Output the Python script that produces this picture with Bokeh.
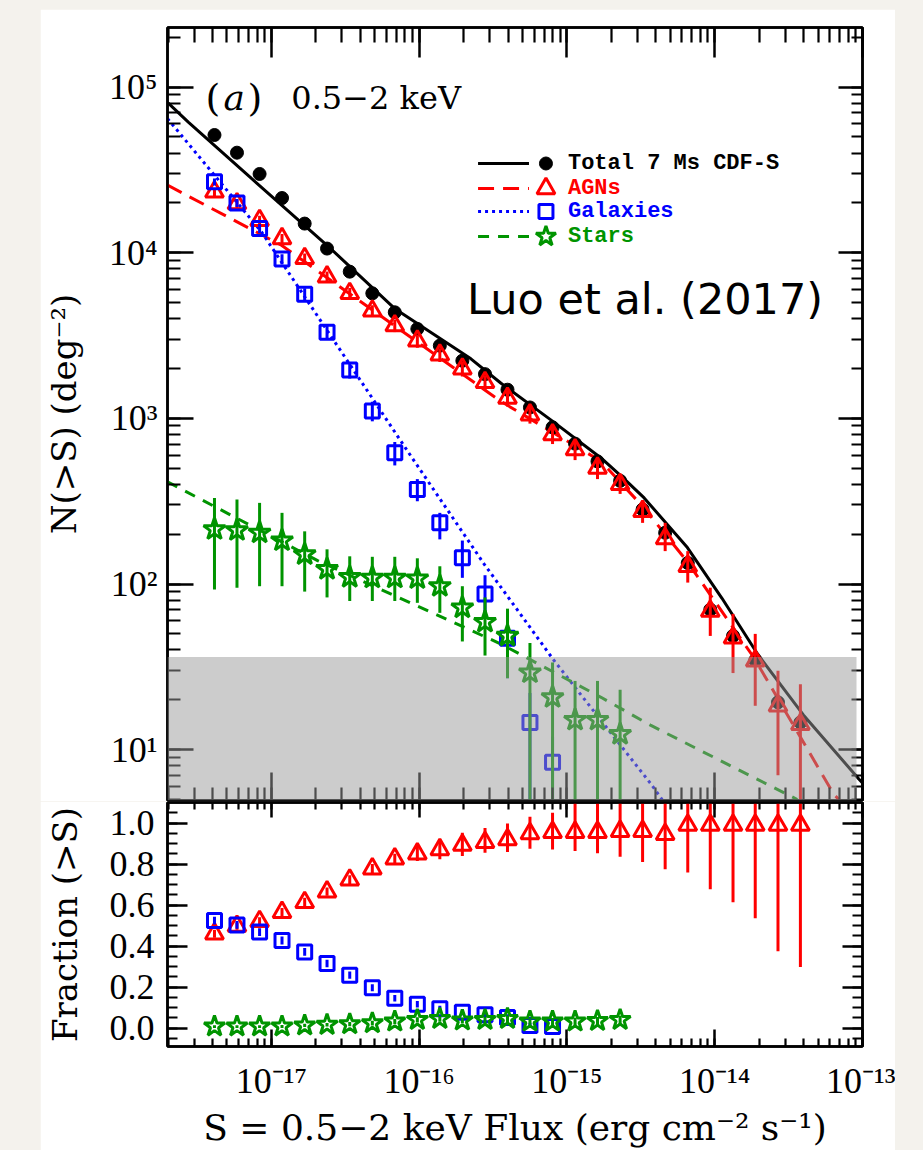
from bokeh.plotting import figure
from bokeh.models import (Range1d, LogAxis, LinearAxis, BoxAnnotation, Label, LogTicker,
                          FixedTicker, CustomJSTickFormatter, PrintfTickFormatter, Spacer)
from bokeh.layouts import column, row
from bokeh.embed import file_html
from bokeh.resources import INLINE

# ---------------- data ----------------
flux = [4.12e-18, 5.85e-18, 8.32e-18, 1.18e-17, 1.68e-17, 2.38e-17, 3.39e-17, 4.82e-17,
        6.84e-17, 9.72e-17, 1.38e-16, 1.96e-16, 2.79e-16, 3.96e-16, 5.62e-16, 7.99e-16,
        1.135e-15, 1.61e-15, 2.29e-15, 3.25e-15, 4.62e-15, 6.57e-15, 9.33e-15, 1.33e-14,
        1.88e-14, 2.68e-14, 3.80e-14]

total_n = [51400, 40200, 29900, 21400, 15000, 10600, 7690, 5690, 4370, 3470, 2750, 2230,
           1850, 1490, 1164, 883, 704, 550, 420, 282, 204, 134, 70, 48.6, 34.6, 19.3, 14.6]

agn_n = [23300, 19800, 15700, 12200, 9250, 7170, 5690, 4460, 3630, 2940, 2420, 1990, 1650,
         1325, 1052, 798, 648, 502, 400, 275, 188, 128, 68.7, 47.4, 34.4, 18.4, 14.2]
agn_n_lo = [22000, 18600, 14700, 11400, 8600, 6650, 5250, 4100, 3320, 2670, 2190, 1790, 1480,
            1180, 930, 700, 560, 430, 350, 234, 158, 102, 48.6, 29, 18.4, 7, 1]
agn_n_hi = [24600, 21000, 16700, 13000, 9900, 7700, 6130, 4820, 3940, 3210, 2650, 2190, 1820,
            1470, 1180, 900, 740, 580, 460, 316, 234, 158, 95, 66, 50, 30, 24.8]

gal_n = [26800, 20000, 14000, 9160, 5610, 3310, 1960, 1110, 620, 372, 234, 144, 87, 47, 14.6, 8.4]
gal_n_lo = [25500, 18900, 13100, 8500, 5150, 3000, 1740, 960, 520, 316, 186, 109, 64, 27, 1, 1]
gal_n_hi = [28100, 21100, 14900, 9800, 6100, 3620, 2180, 1260, 720, 430, 269, 183, 113, 68, 22, 12]

star_n = [214, 211, 204, 183, 151, 123, 110, 109, 109, 108, 97, 72, 59, 48.6, 29.2, 20.7,
          15.1, 15.1, 12.4]
star_n_lo = [92.7, 95, 97, 97, 90, 83, 79, 79, 79, 77, 67, 45, 37, 27, 1, 1, 1, 1, 1]
star_n_hi = [331, 324, 309, 269, 208, 162, 147, 146, 146, 143, 128, 97, 83, 71, 44, 33.6, 26, 26, 23]

# model curves
total_model_s = [1.98e-18, 2.74e-18, 7.33e-18, 2.38e-17, 6.81e-17, 2.24e-16, 3.58e-16, 7.94e-16,
                 1.70e-15, 2.40e-15, 3.33e-15, 6.53e-15, 1.12e-14, 1.95e-14, 3.98e-14, 9.44e-14,
                 1.0e-13]
total_model_n = [81000, 61500, 28100, 11100, 4610, 2290, 1630, 966, 577, 437, 331, 166, 82,
                 37.8, 16.2, 6.65, 6.3]
agn_model_s = [1.98e-18, 1.17e-17, 3.58e-16, 1.70e-15, 3.24e-15, 6.46e-15, 1.84e-14, 6.41e-14, 7.08e-14]
agn_model_n = [25600, 11100, 1265, 551, 295, 138, 36.0, 5.36, 4.9]
gal_model_s = [1.98e-18, 8.55e-18, 8.38e-17, 2.76e-16, 8.20e-16, 3.70e-15, 4.47e-15]
gal_model_n = [64600, 13400, 631, 131.5, 34.4, 6.21, 4.9]
star_model_s = [1.98e-18, 2.07e-17, 3.58e-16, 1.70e-15, 3.70e-15, 3.62e-14]
star_model_n = [414, 138, 43.4, 20.7, 14.0, 5.0]

# fractions
agn_frac = [0.46, 0.497, 0.52, 0.565, 0.613, 0.665, 0.723, 0.777, 0.826, 0.85, 0.871, 0.892,
            0.906, 0.919, 0.948, 0.955, 0.955, 0.955, 0.96, 0.96, 0.945, 0.99, 0.99, 0.99,
            0.99, 0.99, 0.99]
agn_frac_lo = [0.44, 0.48, 0.50, 0.545, 0.595, 0.645, 0.70, 0.755, 0.80, 0.815, 0.823, 0.839,
               0.855, 0.858, 0.874, 0.871, 0.863, 0.852, 0.835, 0.81, 0.774, 0.758, 0.677,
               0.613, 0.535, 0.374, 0.298]
agn_frac_hi = [0.48, 0.515, 0.54, 0.585, 0.635, 0.685, 0.745, 0.80, 0.85, 0.89, 0.92, 0.952,
               0.976, 0.997, 1.03, 1.05, 1.2, 1.2, 1.2, 1.2, 1.2, 1.2, 1.2, 1.2, 1.2, 1.2, 1.2]

gal_frac = [0.524, 0.503, 0.468, 0.427, 0.371, 0.315, 0.258, 0.197, 0.145, 0.116, 0.094, 0.077,
            0.065, 0.052, 0.013, 0.008]
gal_frac_lo = [0.505, 0.484, 0.449, 0.408, 0.352, 0.297, 0.240, 0.180, 0.129, 0.100, 0.079, 0.062,
               0.050, 0.037, 0.000, 0.000]
gal_frac_hi = [0.543, 0.522, 0.487, 0.446, 0.390, 0.333, 0.276, 0.214, 0.161, 0.132, 0.109, 0.092,
               0.080, 0.067, 0.026, 0.018]

star_frac = [0.008, 0.008, 0.008, 0.008, 0.013, 0.016, 0.019, 0.024, 0.032, 0.04, 0.045, 0.037,
             0.04, 0.045, 0.032, 0.032, 0.032, 0.035, 0.04]
star_frac_lo = [0.0, 0.0, 0.0, 0.0, 0.005, 0.007, 0.009, 0.013, 0.02, 0.027, 0.031, 0.023, 0.025,
                0.029, 0.016, 0.015, 0.014, 0.016, 0.02]
star_frac_hi = [0.014, 0.014, 0.014, 0.015, 0.021, 0.025, 0.029, 0.035, 0.044, 0.053, 0.059, 0.051,
                0.055, 0.061, 0.048, 0.049, 0.05, 0.054, 0.06]

band_top = 36.3
frac_ticks = [0.0, 0.2, 0.4, 0.6, 0.8, 1.0]
frac_minor = [-0.05, 0.0, 0.05, 0.1, 0.15, 0.2, 0.25, 0.3, 0.35, 0.4, 0.45, 0.5, 0.55, 0.6,
              0.65, 0.7, 0.75, 0.8, 0.85, 0.9, 0.95, 1.0, 1.05]

legend_labels = ["Total 7 Ms CDF-S", "AGNs", "Galaxies", "Stars"]

# ---------------- styling ----------------
RED, BLUE, GREEN, BLACK = "#ff0000", "#0000ff", "#009400", "#000000"
XLOG = (-17.703, -13.0)
YLOG = (0.693, 5.36)
FL, FR, FT, FB = 166, 862, 27, 800   # top-panel frame in page px
CARD_L, CARD_T, CARD_R = 40, 9, 895
BL = FL - CARD_L
BR = CARD_R - FR
FRAME_W = FR - FL
FIG_W = BL + FRAME_W + BR

def dx(px):
    return 10 ** (XLOG[0] + (px - FL) / (FR - FL) * (XLOG[1] - XLOG[0]))

def dy(py):
    return 10 ** (YLOG[1] - (py - FT) / (FB - FT) * (YLOG[1] - YLOG[0]))

sup_js = """
const sup = {"-":"\\u207b","0":"\\u2070","1":"\\u00b9","2":"\\u00b2","3":"\\u00b3","4":"\\u2074",
             "5":"\\u2075","6":"\\u2076","7":"\\u2077","8":"\\u2078","9":"\\u2079"};
const e = Math.round(Math.log10(tick));
return "10" + String(e).split("").map(c => sup[c]).join("");
"""

TICK_FONT = "Liberation Serif"
LAB_FONT = "DejaVu Serif"

def style_axis(ax, major_in, minor_in, labels=False):
    ax.major_tick_in = major_in
    ax.major_tick_out = 0
    ax.minor_tick_in = minor_in
    ax.minor_tick_out = 0
    ax.axis_line_color = BLACK
    ax.axis_line_width = 2.5
    ax.major_tick_line_color = BLACK
    ax.major_tick_line_width = 2.5
    ax.minor_tick_line_color = BLACK
    ax.minor_tick_line_width = 2.2
    if labels:
        ax.major_label_text_font = TICK_FONT
        ax.major_label_text_font_size = "36px"
        ax.major_label_text_color = BLACK
        ax.axis_label_text_font = LAB_FONT
        ax.axis_label_text_font_style = "normal"
        ax.axis_label_text_color = BLACK
    else:
        ax.major_label_text_font_size = "1px"
        ax.major_label_text_alpha = 0
        ax.major_label_standoff = 0

def log_ticker():
    return LogTicker(num_minor_ticks=10)

# ---------------- top panel ----------------
p1 = figure(width=FIG_W, height=(FT - CARD_T) + (FB - FT) + 1,
            x_axis_type="log", y_axis_type="log",
            x_range=Range1d(10 ** XLOG[0], 10 ** XLOG[1]),
            y_range=Range1d(10 ** YLOG[0], 10 ** YLOG[1]),
            output_backend="svg", toolbar_location=None,
            min_border_left=BL, min_border_right=BR, min_border_top=FT - CARD_T,
            min_border_bottom=1)
p1.grid.visible = False
p1.outline_line_color = BLACK
p1.outline_line_width = 2.5
p1.background_fill_color = "white"
p1.border_fill_color = "white"

p1.xaxis[0].ticker = log_ticker()
style_axis(p1.xaxis[0], 28, 13)
p1.yaxis[0].ticker = log_ticker()
p1.yaxis[0].formatter = CustomJSTickFormatter(code=sup_js)
style_axis(p1.yaxis[0], 26, 13, labels=True)
p1.yaxis[0].major_label_standoff = 10
p1.yaxis[0].axis_label = "N(>S) (deg\u207b\u00b2)"
p1.yaxis[0].axis_label_text_font_size = "34px"
p1.yaxis[0].axis_label_standoff = 22

top_ax = LogAxis(ticker=log_ticker())
style_axis(top_ax, 30, 15)
p1.add_layout(top_ax, "above")
right_ax = LogAxis(ticker=log_ticker())
style_axis(right_ax, 24, 11)
p1.add_layout(right_ax, "right")

# model curves
p1.line(total_model_s, total_model_n, line_color=BLACK, line_width=3)
p1.line(agn_model_s, agn_model_n, line_color=RED, line_width=3, line_dash="16 9")
p1.line(gal_model_s, gal_model_n, line_color=BLUE, line_width=3, line_dash="3 4")
p1.line(star_model_s, star_model_n, line_color=GREEN, line_width=3, line_dash="11 9")

# points
p1.scatter(flux, total_n, marker="circle", size=13, fill_color=BLACK, line_color=BLACK)
p1.segment(flux, agn_n_lo, flux, agn_n_hi, line_color=RED, line_width=3)
p1.scatter(flux, agn_n, marker="triangle", size=18, fill_alpha=0, line_color=RED, line_width=3)
gx = flux[:len(gal_n)]
p1.segment(gx, gal_n_lo, gx, gal_n_hi, line_color=BLUE, line_width=3)
p1.scatter(gx, gal_n, marker="square", size=14, fill_alpha=0, line_color=BLUE, line_width=3)
sx = flux[:len(star_n)]
p1.segment(sx, star_n_lo, sx, star_n_hi, line_color=GREEN, line_width=3)
p1.scatter(sx, star_n, marker="star", size=23, fill_alpha=0, line_color=GREEN, line_width=3)

# grey band
p1.add_layout(BoxAnnotation(top=band_top, bottom=10 ** YLOG[0], left=10 ** XLOG[0], right=dx(856),
                            fill_color="#9a9a9a", fill_alpha=0.5, line_alpha=0))

# panel label
for txt, px, style, fs in [("(", 204, "normal", "38px"), ("a", 222, "italic", "36px"),
                           (")", 246, "normal", "38px"), ("0.5\u22122 keV", 290, "normal", "32px")]:
    p1.add_layout(Label(x=dx(px), y=dy(97), text=txt, text_font=LAB_FONT, text_font_style=style,
                        text_font_size=fs, text_color=BLACK, text_baseline="middle"))

p1.add_layout(Label(x=dx(466), y=dy(298), text="Luo et al. (2017)", text_font="DejaVu Sans",
                    text_font_size="43px", text_color=BLACK, text_baseline="middle"))

# legend (drawn by hand: line + marker side by side)
rows_py = [163, 188, 211, 236]
leg_cols = [BLACK, RED, BLUE, GREEN]
leg_dash = ["solid", "16 9", "3 4", "11 9"]
leg_marker = ["circle", "triangle", "square", "star"]
leg_size = [13, 18, 14, 21]
for lab, py, c, dsh, mk, sz in zip(legend_labels, rows_py, leg_cols, leg_dash, leg_marker, leg_size):
    yy = dy(py)
    p1.line([dx(477), dx(528)], [yy, yy], line_color=c, line_width=3, line_dash=dsh)
    if mk == "circle":
        p1.scatter([dx(545)], [yy], marker=mk, size=sz, fill_color=c, line_color=c)
    else:
        p1.scatter([dx(545)], [yy], marker=mk, size=sz, fill_alpha=0, line_color=c, line_width=3)
    p1.add_layout(Label(x=dx(567), y=yy, text=lab, text_font="Liberation Mono",
                        text_font_style="bold", text_font_size="22px", text_color=c,
                        text_baseline="middle"))

# ---------------- bottom panel ----------------
P2_FB = 1045
p2 = figure(width=FIG_W, height=1 + (P2_FB - FB) + 103,
            x_axis_type="log",
            x_range=p1.x_range, y_range=Range1d(-0.09, 1.10),
            output_backend="svg", toolbar_location=None,
            min_border_left=BL, min_border_right=BR, min_border_top=1, min_border_bottom=103)
p2.grid.visible = False
p2.outline_line_color = BLACK
p2.outline_line_width = 2.5
p2.border_fill_color = "white"
p2.background_fill_color = "white"

p2.xaxis[0].ticker = log_ticker()
p2.xaxis[0].formatter = CustomJSTickFormatter(code=sup_js)
style_axis(p2.xaxis[0], 17, 8, labels=True)
p2.xaxis[0].major_label_standoff = 14
p2.xaxis[0].axis_label = "S = 0.5\u22122 keV Flux (erg cm\u207b\u00b2 s\u207b\u00b9)"
p2.xaxis[0].axis_label_text_font_size = "36px"
p2.xaxis[0].axis_label_standoff = 3

p2.yaxis[0].ticker = FixedTicker(ticks=frac_ticks, minor_ticks=frac_minor)
p2.yaxis[0].formatter = PrintfTickFormatter(format="%.1f")
style_axis(p2.yaxis[0], 20, 10, labels=True)
p2.yaxis[0].major_label_standoff = 13
p2.yaxis[0].axis_label = "Fraction (>S)"
p2.yaxis[0].axis_label_text_font_size = "34px"
p2.yaxis[0].axis_label_standoff = 22

top2 = LogAxis(ticker=log_ticker())
style_axis(top2, 15, 7)
p2.add_layout(top2, "above")
right2 = LinearAxis(ticker=FixedTicker(ticks=frac_ticks, minor_ticks=frac_minor))
style_axis(right2, 20, 10)
p2.add_layout(right2, "right")

p2.segment(flux, agn_frac_lo, flux, agn_frac_hi, line_color=RED, line_width=3)
p2.scatter(flux, agn_frac, marker="triangle", size=18, fill_alpha=0, line_color=RED, line_width=3)
p2.segment(gx, gal_frac_lo, gx, gal_frac_hi, line_color=BLUE, line_width=3)
p2.scatter(gx, gal_frac, marker="square", size=14, fill_alpha=0, line_color=BLUE, line_width=3)
p2.segment(sx, star_frac_lo, sx, star_frac_hi, line_color=GREEN, line_width=3)
p2.scatter(sx, star_frac, marker="star", size=22, fill_alpha=0, line_color=GREEN, line_width=3)

H = 1149
layout = row(Spacer(width=CARD_L, height=H),
             column(Spacer(width=FIG_W, height=CARD_T), p1, p2, spacing=0),
             Spacer(width=923 - CARD_R, height=H),
             spacing=0, styles={"background-color": "#f4f2ed"})

open("out.html", "w").write(file_html(layout, INLINE))
